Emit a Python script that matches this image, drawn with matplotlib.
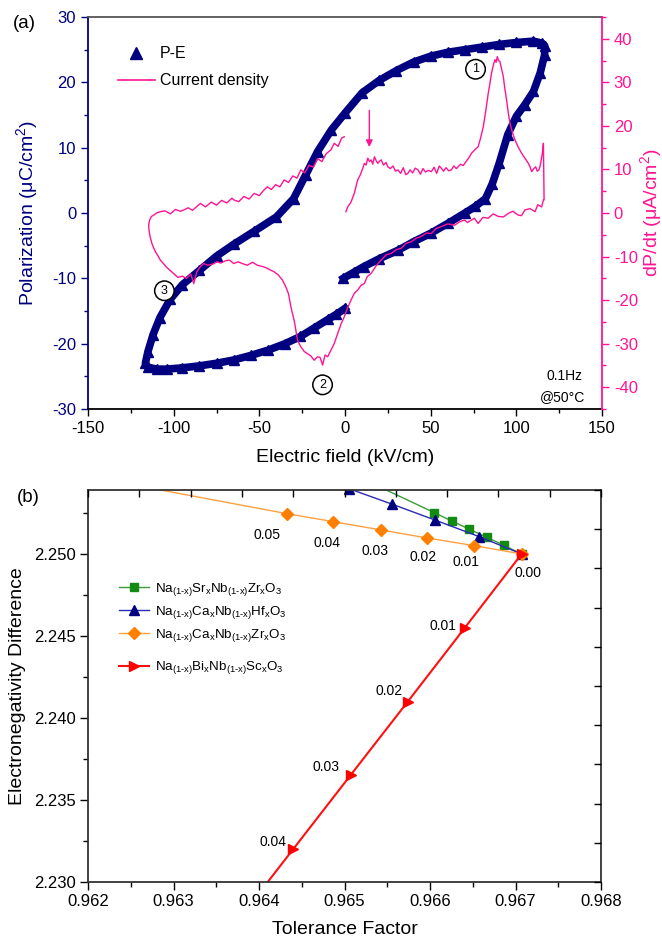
import numpy as np
import matplotlib
matplotlib.use("Agg")
import matplotlib.pyplot as plt
from matplotlib.lines import Line2D
from matplotlib.ticker import MultipleLocator, FormatStrFormatter

plt.rcParams['font.family'] = ['Liberation Sans', 'DejaVu Sans']
plt.rcParams['mathtext.fontset'] = 'custom'
plt.rcParams['mathtext.rm'] = 'Liberation Sans'
plt.rcParams['mathtext.it'] = 'Liberation Sans:italic'
plt.rcParams['mathtext.default'] = 'regular'
plt.rcParams['axes.unicode_minus'] = False

# ---- (a) P-E loop (kV/cm, uC/cm2) ----
pe_field = [-1, 5, 11, 20, 31, 40, 50, 60, 70, 76, 82, 86, 90, 95, 100, 105, 110, 114, 116.5, 116.5,
            115, 110, 100, 90, 80, 70, 60, 50, 40, 30, 20, 10, 0, -8, -16, -23, -30, -40, -53, -65,
            -75, -85, -95, -102, -108, -112, -115, -116.5,
            -115, -110, -104, -95, -85, -75, -65, -55, -45, -35, -26, -18, -10, -5, 0]
pe_pol = [-10.0, -9.1, -8.2, -7.0, -5.7, -4.4, -3.1, -1.6, 0.0, 1.0, 2.2, 4.5, 7.6, 12.0, 14.8, 16.6, 18.6, 21.5, 24.2, 25.6,
          26.0, 26.3, 26.1, 25.8, 25.4, 25.0, 24.6, 24.0, 23.1, 21.8, 20.3, 18.4, 15.3, 12.7, 9.4, 5.8, 2.2, -0.6, -2.8, -4.8,
          -6.6, -8.8, -11.0, -13.2, -16.0, -18.6, -21.2, -23.0,
          -23.6, -23.9, -23.9, -23.7, -23.4, -23.0, -22.5, -21.8, -21.0, -20.0, -18.9, -17.6, -16.3, -15.5, -14.6]

# current density, three sweeps (kV/cm, uA/cm2)
j_field_up = [0.5, 1.6, 3.5, 5.4, 7.4, 9.0, 10.4, 11.3, 12.3, 13.3, 14.3, 15.2, 16.2, 17.2, 18.2, 19.2, 20.1, 21.1,
              22.5, 24.0, 25.0, 26.5, 28.0, 29.5, 30.9, 32.5, 34.0, 35.5, 36.7, 38.0, 39.5, 41.0, 42.6, 44.0, 45.5,
              47.0, 48.5, 50.4, 52.0, 53.5, 55.0, 56.2, 57.5, 59.0, 60.5, 62.1, 63.5, 65.0, 66.0, 67.5, 69.0, 69.9,
              71.0, 72.5, 73.8, 75.0, 76.5, 77.7, 79.0, 80.7, 82.0, 83.6, 84.5, 85.5, 86.5, 87.5, 88.2, 88.9, 89.6,
              90.4, 91.4, 92.4, 93.3, 94.3, 95.3, 96.3, 97.7, 99.2, 101.0, 103.1, 105.0, 107.0, 108.0, 109.0, 110.2,
              111.3, 112.2, 113.2, 114.0, 114.8, 115.3, 115.8, 116.0, 116.2]
j_up = [0.3, 1.4, 2.5, 4.5, 7.6, 8.8, 10.3, 11.4, 11.0, 12.6, 11.8, 12.2, 11.2, 12.9, 12.0, 11.4, 11.9, 12.2,
        11.0, 11.6, 10.6, 10.2, 10.8, 9.6, 9.9, 9.1, 10.4, 8.8, 9.1, 9.9, 9.2, 10.3, 9.9, 8.9, 10.2,
        9.4, 9.8, 9.5, 10.5, 9.1, 10.8, 10.3, 9.6, 10.4, 9.7, 9.9, 10.8, 10.2, 10.6, 11.2, 10.9, 11.4,
        12.0, 12.8, 13.7, 14.2, 14.8, 15.2, 17.0, 19.8, 23.0, 27.5, 29.5, 32.1, 33.8, 35.2, 34.6, 35.9, 35.0,
        34.8, 33.0, 31.3, 28.5, 26.0, 23.0, 20.6, 18.5, 16.8, 15.2, 13.7, 12.6, 11.4, 10.6, 9.5, 10.2,
        10.6, 9.6, 9.9, 11.0, 12.9, 14.0, 16.0, 10.0, 3.0]

j_field_down = [115.8, 114.8, 112.5, 110.9, 108.0, 105.0, 103.0, 101.2, 98.0, 95.3, 92.5, 89.5, 86.5, 83.6, 80.5,
                77.7, 75.5, 73.8, 71.5, 69.9, 67.0, 64.0, 60.0, 56.2, 53.0, 50.4, 47.5, 44.5, 41.5, 38.7, 35.5,
                32.8, 30.0, 26.9, 24.0, 21.1, 18.0, 15.2, 13.0, 11.3, 9.4, 7.4, 5.5, 3.5, 1.5, -0.4, -2.3, -4.3,
                -6.3, -8.2, -10.1, -11.6, -13.1, -14.5, -16.0, -18.0, -20.0, -21.9, -23.8, -25.8, -27.7, -29.5,
                -31.6, -33.0, -34.6, -36.5, -39.0, -41.4, -44.0, -46.5, -49.0, -51.1, -54.0, -57.0, -60.0, -62.5,
                -64.9, -67.5, -70.0, -72.5, -74.6, -77.0, -80.0, -82.5, -84.4, -86.5, -88.3, -90.0, -92.5, -95.0,
                -97.5, -100.0, -102.0, -104.0, -106.0, -107.8, -109.5, -110.5, -111.7, -112.7, -113.7, -114.3, -114.6]
j_down = [3.0, 1.4, 1.9, 0.3, 1.0, 0.7, -0.6, -0.5, 0.4, -0.1, -0.9, -0.8, -0.2, -1.2, -1.0,
          -2.4, -1.2, -1.6, -2.2, -1.6, -2.0, -2.8, -2.5, -3.1, -3.6, -4.7, -4.6, -5.4, -5.8, -6.6, -7.0,
          -8.1, -8.4, -9.3, -9.6, -10.8, -12.2, -13.9, -14.6, -16.2, -16.6, -17.7, -18.4, -20.0, -21.8, -23.8, -25.5, -27.7,
          -30.0, -31.5, -33.0, -32.6, -34.9, -33.2, -33.0, -33.8, -32.8, -32.3, -31.8, -30.7, -29.2, -25.0,
          -21.5, -18.5, -16.9, -15.4, -14.2, -13.5, -13.0, -12.5, -12.2, -12.0, -11.3, -12.0, -11.6, -11.2,
          -11.6, -10.8, -11.0, -11.5, -11.2, -11.7, -12.0, -11.6, -12.3, -13.5, -16.2, -14.0, -15.0, -14.5,
          -14.8, -13.9, -13.2, -12.5, -11.6, -10.8, -9.6, -9.0, -8.0, -7.0, -5.5, -4.2, -3.1]

j_field_back = [-114.5, -114.0, -113.0, -111.7, -110.0, -107.8, -105.0, -102.0, -99.0, -96.0, -94.1, -91.5, -89.0,
                -86.5, -84.4, -81.5, -78.0, -75.0, -72.0, -69.0, -66.0, -64.9, -62.0, -59.0, -56.0, -53.0, -50.0,
                -47.5, -45.3, -43.0, -40.5, -38.0, -35.5, -33.0, -30.5, -28.0, -25.8, -23.5, -21.0, -18.5, -16.0,
                -13.5, -11.0, -8.2, -6.3, -4.0, -2.0, -0.4]
j_back = [-2.5, -1.6, -0.8, -0.5, 0.0, 0.3, 0.5, -0.2, 0.8, 0.4, 0.7, 1.2, 0.6,
          1.5, 2.2, 1.4, 2.5, 1.8, 2.9, 2.3, 3.4, 3.0, 2.6, 3.8, 3.2, 4.5, 4.0,
          5.2, 6.0, 5.4, 6.5, 6.0, 7.6, 7.0, 8.5, 8.0, 9.9, 9.2, 11.0, 10.5, 12.5,
          11.8, 13.6, 14.5, 16.0, 15.3, 17.2, 17.5]

# ---- (b) tolerance factor vs electronegativity difference ----
sr_zr_tf = [0.967072, 0.966862, 0.966663, 0.966460, 0.966254, 0.966050, 0.96500]
sr_zr_en = [2.25000, 2.25053, 2.25102, 2.25151, 2.25201, 2.25252, 2.2551]
ca_hf_tf = [0.967072, 0.966573, 0.966058, 0.965559, 0.965047]
ca_hf_en = [2.25000, 2.25106, 2.25207, 2.25303, 2.25399]
ca_zr_tf = [0.967072, 0.966518, 0.965965, 0.965427, 0.964869, 0.964324, 0.96162]
ca_zr_en = [2.25000, 2.250506, 2.250976, 2.251463, 2.25197, 2.25246, 2.2551]
bi_sc_tf = [0.967072, 0.966409, 0.965739, 0.965072, 0.964401, 0.96373]
bi_sc_en = [2.25000, 2.24551, 2.24099, 2.23652, 2.23201, 2.2275]

ca_zr_labels = ['0.00', '0.01', '0.02', '0.03', '0.04', '0.05']
ca_zr_lab_tf = [0.967143, 0.966421, 0.965922, 0.965357, 0.964792, 0.964090]
ca_zr_lab_en = [2.24882, 2.24953, 2.24984, 2.25018, 2.25065, 2.25116]
bi_sc_labels = ['0.01', '0.02', '0.03', '0.04']
bi_sc_lab_tf = [0.966156, 0.965520, 0.964784, 0.964167]
bi_sc_lab_en = [2.24563, 2.24165, 2.23701, 2.23246]

navy = '#000080'
pink = '#ff1493'

fig = plt.figure(figsize=(6.62, 9.39), dpi=100)

# ================= (a) =================
ax1 = fig.add_axes([88/662, 1-409/939, 514/662, 392/939])
ax1r = ax1.twinx()

ax1.plot(pe_field, pe_pol, color=navy, lw=5.5, marker='^', ms=7,
         solid_joinstyle='round', zorder=2)
j_field = j_field_up + j_field_down + j_field_back
j_all = j_up + j_down + j_back
ax1r.plot(j_field, j_all, color=pink, lw=1.0)

ax1.set_xlim(-150, 150)
ax1.set_ylim(-30, 30)
ax1r.set_ylim(-45, 45)
ax1.xaxis.set_major_locator(MultipleLocator(50))
ax1.xaxis.set_minor_locator(MultipleLocator(25))
ax1.yaxis.set_major_locator(MultipleLocator(10))
ax1.yaxis.set_minor_locator(MultipleLocator(5))
ax1r.yaxis.set_major_locator(MultipleLocator(10))
ax1r.yaxis.set_minor_locator(MultipleLocator(5))

ax1.spines['left'].set_color(navy)
ax1.spines['right'].set_visible(False)
ax1.spines['top'].set_color('#555555')
for s in ['left', 'top', 'bottom']:
    ax1r.spines[s].set_visible(False)
ax1r.spines['right'].set_color(pink)
for a in [ax1, ax1r]:
    for s in a.spines.values():
        s.set_linewidth(1.3)

ax1.tick_params(axis='x', which='both', direction='out', top=False, labelsize=12, width=1)
ax1.tick_params(axis='y', which='both', direction='out', colors=navy, labelsize=12, width=1)
ax1r.tick_params(axis='y', which='both', direction='out', colors=pink, labelsize=12, width=1)
for a in [ax1, ax1r]:
    a.tick_params(which='major', length=5)
    a.tick_params(which='minor', length=3)

ax1.set_xlabel('Electric field (kV/cm)', fontsize=14)
ax1.set_ylabel('Polarization (μC/cm$^2$)', fontsize=14, color=navy)
ax1r.set_ylabel('dP/dt (μA/cm$^2$)', fontsize=14, color=pink)
ax1.xaxis.label.set_va('center')
ax1.yaxis.label.set_va('center')
ax1r.yaxis.label.set_va('center')
ax1.xaxis.set_label_coords(0.5, -0.125)
ax1.yaxis.set_label_coords(-0.118, 0.5)
ax1r.yaxis.set_label_coords(1.095, 0.5)

h_pe = Line2D([], [], ls='none', marker='^', color=navy, ms=8)
h_j = Line2D([], [], color=pink, lw=1.2)
ax1r.legend([h_pe, h_j], ['P-E', 'Current density'], loc='upper left',
            bbox_to_anchor=(0.043, 0.946), frameon=False, fontsize=11.5,
            borderpad=0, handlelength=2.3, handletextpad=0.3, labelspacing=0.75)

circ = dict(boxstyle='circle,pad=0.3', fc='white', ec='black', lw=1.1)
ax1.text(76.2, 22.0, '1', fontsize=9, ha='center', va='center', bbox=circ, zorder=5)
ax1.text(-13.1, -26.3, '2', fontsize=9, ha='center', va='center', bbox=circ, zorder=5)
ax1.text(-105.4, -11.9, '3', fontsize=9, ha='center', va='center', bbox=circ, zorder=5)
ax1r.annotate('', xy=(14.2, 14.5), xytext=(14.2, 24.2),
              arrowprops=dict(arrowstyle='-|>', color=pink, lw=1, mutation_scale=10))
ax1.text(0.963, 0.085, '0.1Hz', transform=ax1.transAxes, fontsize=10, ha='right', va='center')
ax1.text(0.968, 0.031, '@50°C', transform=ax1.transAxes, fontsize=10, ha='right', va='center')

fig.text(12.7/662, 1-23/939, '(a)', fontsize=13.5, ha='left', va='center')

# ================= (b) =================
ax2 = fig.add_axes([88/662, 1-882/939, 513/662, 392/939])

l1, = ax2.plot(sr_zr_tf, sr_zr_en, color='#3a9d3a', lw=1, marker='s', ms=6,
               mfc='#138a13', mec='#138a13', markevery=list(range(6)))
l2, = ax2.plot(ca_hf_tf, ca_hf_en, color='#2a2ab8', lw=1, marker='^', ms=7.5,
               mfc=navy, mec=navy)
l3, = ax2.plot(ca_zr_tf, ca_zr_en, color='#ffa040', lw=1, marker='D', ms=6,
               mfc='#ff8000', mec='#ff8000', markevery=list(range(6)))
l4, = ax2.plot(bi_sc_tf, bi_sc_en, color='#ff1010', lw=1.5, marker='>', ms=7.5,
               mfc='#ff0000', mec='#ff0000')

for t, x, y in zip(ca_zr_labels, ca_zr_lab_tf, ca_zr_lab_en):
    ax2.text(x, y, t, fontsize=10, ha='center', va='center')
for t, x, y in zip(bi_sc_labels, bi_sc_lab_tf, bi_sc_lab_en):
    ax2.text(x, y, t, fontsize=10, ha='center', va='center')

ax2.set_xlim(0.962, 0.968)
ax2.set_ylim(2.230, 2.2539)
ax2.xaxis.set_major_locator(MultipleLocator(0.001))
ax2.xaxis.set_minor_locator(MultipleLocator(0.0005))
ax2.yaxis.set_major_locator(MultipleLocator(0.005))
ax2.yaxis.set_minor_locator(MultipleLocator(0.0025))
ax2.xaxis.set_major_formatter(FormatStrFormatter('%.3f'))
ax2.yaxis.set_major_formatter(FormatStrFormatter('%.3f'))
ax2.tick_params(which='both', direction='out', labelsize=12, width=1)
ax2.tick_params(which='major', length=5.5)
ax2.tick_params(which='minor', length=3.5)
for s in ax2.spines.values():
    s.set_linewidth(1.3)
    s.set_color('#333333')

ax2.set_xlabel('Tolerance Factor', fontsize=14)
ax2.set_ylabel('Electronegativity Difference', fontsize=14)
ax2.xaxis.label.set_va('center')
ax2.yaxis.label.set_va('center')
ax2.xaxis.set_label_coords(0.5, -0.12)
ax2.yaxis.set_label_coords(-0.137, 0.5)

lab1 = 'Na$_{(1\u2010x)}$Sr$_x$Nb$_{(1\u2010x)}$Zr$_x$O$_3$'
lab2 = 'Na$_{(1\u2010x)}$Ca$_x$Nb$_{(1\u2010x)}$Hf$_x$O$_3$'
lab3 = 'Na$_{(1\u2010x)}$Ca$_x$Nb$_{(1\u2010x)}$Zr$_x$O$_3$'
lab4 = 'Na$_{(1\u2010x)}$Bi$_x$Nb$_{(1\u2010x)}$Sc$_x$O$_3$'
leg1 = ax2.legend([l1, l2, l3], [lab1, lab2, lab3], loc='upper left',
                  bbox_to_anchor=(0.047, 0.786), frameon=False, fontsize=9.6,
                  borderpad=0, handlelength=2.3, handletextpad=0.45,
                  labelspacing=0.45, numpoints=1)
ax2.add_artist(leg1)
ax2.legend([l4], [lab4], loc='upper left', bbox_to_anchor=(0.047, 0.585),
           frameon=False, fontsize=9.6, borderpad=0, handlelength=2.3,
           handletextpad=0.45, numpoints=1)

# inward ticks on top and right frame
axt = ax2.twiny()
axt.set_xlim(0, 1)
axt.set_xticks(np.linspace(0, 1, 11))
axt.tick_params(axis='x', direction='in', length=5, width=1, labeltop=False)
axr = ax2.twinx()
axr.set_ylim(0, 1)
axr.set_yticks(np.linspace(0, 1, 11))
axr.tick_params(axis='y', direction='in', length=5, width=1, labelright=False)
for a in [axt, axr]:
    for s in a.spines.values():
        s.set_visible(False)

fig.text(16.7/662, 1-497.5/939, '(b)', fontsize=13.5, ha='left', va='center')

fig.savefig('out.png', dpi=100)
